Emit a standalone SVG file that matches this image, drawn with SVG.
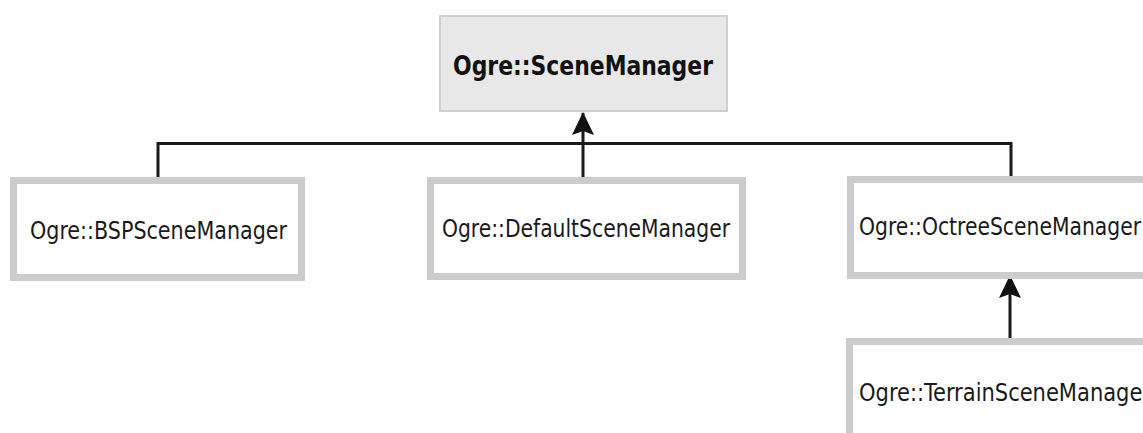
<svg xmlns="http://www.w3.org/2000/svg" width="1143" height="433" viewBox="0 0 1143 433">
  <style>
    .cls { fill: #ffffff; stroke: #cccccc; stroke-width: 7; }
    .base { fill: #e8e8e8; stroke: #cfcfcf; stroke-width: 2; }
    .lbl { font-family: "Liberation Sans Narrow", "DejaVu Sans Condensed", "Liberation Sans", sans-serif; font-size: 24px; fill: #1a1a1a; }
    .ttl { font-family: "Liberation Sans Narrow", "DejaVu Sans Condensed", "Liberation Sans", sans-serif; font-size: 26px; font-weight: bold; fill: #111111; }
    .wire { fill: none; stroke: #1a1a1a; stroke-width: 3; }
  </style>
  <defs>
    <!-- filled inheritance arrowhead, tip at the end of the path -->
    <marker id="inherit" viewBox="0 0 24 24" refX="23" refY="12" markerWidth="24" markerHeight="24" markerUnits="userSpaceOnUse" orient="auto">
      <path d="M24 12 L1 1 L5 12 L1 23 Z" fill="#111111"/>
    </marker>
  </defs>
  <rect width="1143" height="433" fill="#ffffff"/>

  <g id="connectors">
    <!-- generalisation bus from the three direct subclasses -->
    <path class="wire" d="M158 177 V143.5 H1011 V176"/>
    <path class="wire" d="M583 177 V113" marker-end="url(#inherit)"/>
    <!-- Terrain derives from Octree -->
    <path class="wire" d="M1010 339 V276" marker-end="url(#inherit)"/>
  </g>

  <g id="scene-manager">
    <rect class="base" x="440" y="16" width="287" height="95"/>
    <text class="ttl" x="453" y="75" textLength="260" lengthAdjust="spacingAndGlyphs">Ogre::SceneManager</text>
  </g>

  <g id="bsp-scene-manager">
    <rect class="cls" x="13.5" y="180.5" width="288" height="97"/>
    <text class="lbl" x="30" y="239" textLength="257" lengthAdjust="spacingAndGlyphs">Ogre::BSPSceneManager</text>
  </g>

  <g id="default-scene-manager">
    <rect class="cls" x="430.5" y="180.5" width="312" height="96"/>
    <text class="lbl" x="442" y="237" textLength="288" lengthAdjust="spacingAndGlyphs">Ogre::DefaultSceneManager</text>
  </g>

  <g id="octree-scene-manager">
    <rect class="cls" x="850.5" y="179.5" width="310" height="96"/>
    <text class="lbl" x="859" y="235" textLength="282" lengthAdjust="spacingAndGlyphs">Ogre::OctreeSceneManager</text>
  </g>

  <g id="terrain-scene-manager">
    <rect class="cls" x="849.5" y="341.5" width="310" height="110"/>
    <text class="lbl" x="859" y="401" textLength="292" lengthAdjust="spacingAndGlyphs">Ogre::TerrainSceneManager</text>
  </g>
</svg>
